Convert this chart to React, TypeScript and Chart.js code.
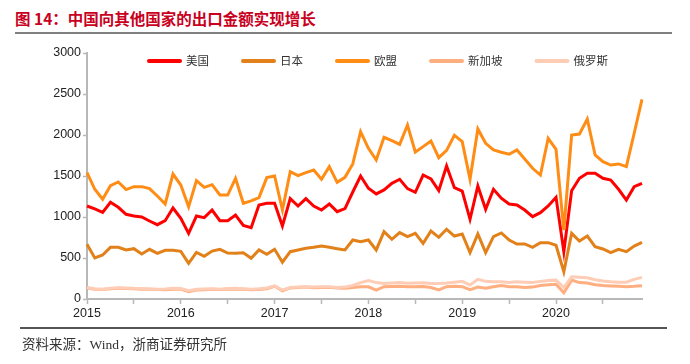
import React, { useEffect, useRef } from "react";
import { Chart, registerables } from "chart.js";

Chart.register(...registerables);

const years = ["2015", "2016", "2017", "2018", "2019", "2020"];
const months: string[] = [];
years.forEach((y) => {
  for (let m = 1; m <= 12; m++) months.push(`${y}-${m}`);
});

const seriesNames = ["美国", "日本", "欧盟", "新加坡", "俄罗斯"];

const usValues = [
  1134, 1098, 1057, 1179, 1118, 1033, 1012, 1000, 951, 906, 955, 1110,
  984, 801, 1012, 992, 1085, 955, 955, 1024, 898, 870, 1146, 1167,
  1167, 890, 1224, 1134, 1224, 1134, 1085, 1159, 1065, 1102, 1305, 1500,
  1350, 1281, 1330, 1411, 1460, 1346, 1301, 1512, 1464, 1321, 1622, 1358,
  1317, 972, 1378, 1094, 1338, 1230, 1159, 1146, 1085, 1004, 1053, 1134,
  1240, 577, 1321, 1472, 1533, 1533, 1472, 1451, 1338, 1207, 1370, 1411,
];

const japanValues = [
  667, 500, 537, 630, 630, 598, 614, 549, 606, 557, 594, 594,
  581, 435, 569, 520, 585, 606, 561, 557, 565, 496, 598, 545,
  606, 448, 577, 598, 618, 630, 646, 630, 614, 598, 720, 699,
  720, 598, 821, 728, 809, 760, 801, 679, 829, 752, 850, 768,
  793, 565, 793, 565, 760, 805, 720, 671, 671, 630, 687, 687,
  655, 333, 801, 707, 768, 638, 610, 565, 606, 577, 646, 691,
];

const euValues = [
  1541, 1338, 1216, 1382, 1427, 1334, 1370, 1370, 1346, 1256, 1159, 1524,
  1390, 1126, 1443, 1362, 1394, 1268, 1268, 1472, 1167, 1196, 1236, 1480,
  1500, 1085, 1553, 1504, 1541, 1573, 1460, 1614, 1423, 1484, 1647, 2041,
  1837, 1695, 1972, 1931, 1886, 2122, 1793, 1858, 1927, 1723, 1813, 1996,
  1919, 1460, 2074, 1899, 1818, 1790, 1765, 1818, 1708, 1594, 1512, 1960,
  1826, 841, 2000, 2012, 2195, 1756, 1675, 1634, 1647, 1614, 2021, 2435,
];

const singaporeValues = [
  135, 120, 115, 125, 130, 128, 125, 120, 118, 115, 112, 118,
  120, 90, 110, 112, 118, 115, 120, 122, 118, 112, 115, 125,
  155, 100, 135, 140, 145, 138, 140, 142, 135, 130, 140, 150,
  148, 108, 150, 152, 155, 148, 150, 152, 140, 110, 150, 155,
  150, 115, 145, 130, 150, 165, 150, 148, 140, 145, 165, 175,
  180, 75, 230, 200, 195, 175, 165, 160, 155, 150, 155, 163,
];

const russiaValues = [
  140, 125, 118, 132, 138, 135, 130, 128, 122, 118, 122, 130,
  128, 100, 118, 122, 125, 120, 128, 132, 126, 120, 125, 135,
  160, 110, 140, 145, 150, 145, 148, 150, 140, 145, 165, 200,
  225, 200, 190, 195, 200, 192, 195, 198, 190, 188, 195, 205,
  215, 170, 240, 215, 210, 210, 200, 210, 205, 200, 215, 225,
  230, 140, 272, 265, 260, 235, 220, 210, 205, 205, 240, 264,
];

const yTicks = [0, 500, 1000, 1500, 2000, 2500, 3000];

const colors = ["#FF0000", "#E2801A", "#FF8C14", "#FFAE80", "#FFCDB5"];
const widths = [3, 3, 3, 3, 3];

const legendPlugin = {
  id: "customLegend",
  afterDraw(chart: any) {
    const ctx = chart.ctx;
    ctx.save();
    ctx.font = '11.5px "Liberation Serif", "Noto Sans CJK SC", serif';
    ctx.textBaseline = "middle";
    let x = 147;
    const y = 61;
    chart.data.datasets.forEach((ds: any) => {
      ctx.strokeStyle = ds.borderColor;
      ctx.lineWidth = 4;
      ctx.lineCap = "round";
      ctx.beginPath();
      ctx.moveTo(x + 2, y);
      ctx.lineTo(x + 33, y);
      ctx.stroke();
      ctx.fillStyle = "#333333";
      ctx.fillText(ds.label, x + 39, y + 1);
      const tw = ctx.measureText(ds.label).width;
      x = x + 39 + tw + 32;
    });
    ctx.restore();
  },
};

export default function App() {
  const ref = useRef<HTMLCanvasElement | null>(null);

  useEffect(() => {
    if (!ref.current) return;
    const values = [usValues, japanValues, euValues, singaporeValues, russiaValues];
    const order = [4, 3, 1, 2, 0];
    const chart = new Chart(ref.current, {
      type: "line",
      data: {
        labels: months,
        datasets: seriesNames.map((name, i) => ({
          label: name,
          data: values[i],
          borderColor: colors[i],
          backgroundColor: colors[i],
          borderWidth: widths[i],
          pointRadius: 0,
          tension: 0,
          fill: false,
          order: order[i],
        })),
      },
      options: {
        animation: false,
        responsive: false,
        devicePixelRatio: 1,
        layout: { padding: { left: 0, top: 53, right: 48, bottom: 39 } },
        plugins: {
          legend: { display: false },
          tooltip: { enabled: false },
        },
        scales: {
          x: {
            type: "category",
            offset: false,
            afterFit: (s: any) => {
              s.height = 26;
            },
            grid: {
              drawOnChartArea: false,
              drawTicks: true,
              tickLength: 5,
              tickWidth: 1.5,
              tickColor: (c: any) => (c.index % 6 === 0 ? "#B8B8B8" : "rgba(0,0,0,0)"),
            },
            border: { display: true, color: "#B8B8B8", width: 2 },
            ticks: {
              autoSkip: false,
              maxRotation: 0,
              minRotation: 0,
              padding: 2,
              color: "#222222",
              font: { family: '"Liberation Sans", Arial, sans-serif', size: 12.5 },
              callback: (_v: any, i: number) => (i % 12 === 0 ? years[i / 12] : ""),
            },
          },
          y: {
            min: 0,
            max: 3000,
            afterFit: (s: any) => {
              s.width = 87;
            },
            afterBuildTicks: (s: any) => {
              s.ticks = yTicks.map((v) => ({ value: v }));
            },
            grid: {
              drawOnChartArea: false,
              drawTicks: true,
              tickLength: 4,
              tickWidth: 1.5,
              tickColor: "#B8B8B8",
            },
            border: { display: true, color: "#B8B8B8", width: 2 },
            ticks: {
              padding: 2,
              color: "#222222",
              font: { family: '"Liberation Sans", Arial, sans-serif', size: 12.5 },
              callback: (v: any) => String(v),
            },
          },
        },
      },
      plugins: [legendPlugin],
    });
    return () => chart.destroy();
  }, []);

  return (
    <div
      style={{
        position: "fixed",
        left: 0,
        top: 0,
        width: 690,
        height: 364,
        background: "#ffffff",
        overflow: "hidden",
      }}
    >
      <div
        style={{
          position: "absolute",
          left: 15,
          top: 8,
          fontFamily: '"Noto Sans CJK SC", sans-serif',
          fontWeight: 700,
          fontSize: 15.5,
          lineHeight: "20px",
          color: "#C8001E",
          whiteSpace: "nowrap",
        }}
      >
        图 14：中国向其他国家的出口金额实现增长
      </div>
      <div
        style={{
          position: "absolute",
          left: 15,
          top: 32,
          width: 657,
          height: 2,
          background: "#808080",
        }}
      />
      <canvas
        ref={ref}
        width={690}
        height={364}
        style={{ position: "absolute", left: 0, top: 0, width: 690, height: 364 }}
      />
      <div
        style={{
          position: "absolute",
          left: 20,
          top: 327,
          width: 647,
          height: 2,
          background: "#555555",
        }}
      />
      <div
        style={{
          position: "absolute",
          left: 22,
          top: 336,
          fontFamily: '"Liberation Serif", "Noto Sans CJK SC", serif',
          fontSize: 13.5,
          lineHeight: "18px",
          color: "#333333",
          whiteSpace: "nowrap",
        }}
      >
        资料来源：Wind，浙商证券研究所
      </div>
    </div>
  );
}
